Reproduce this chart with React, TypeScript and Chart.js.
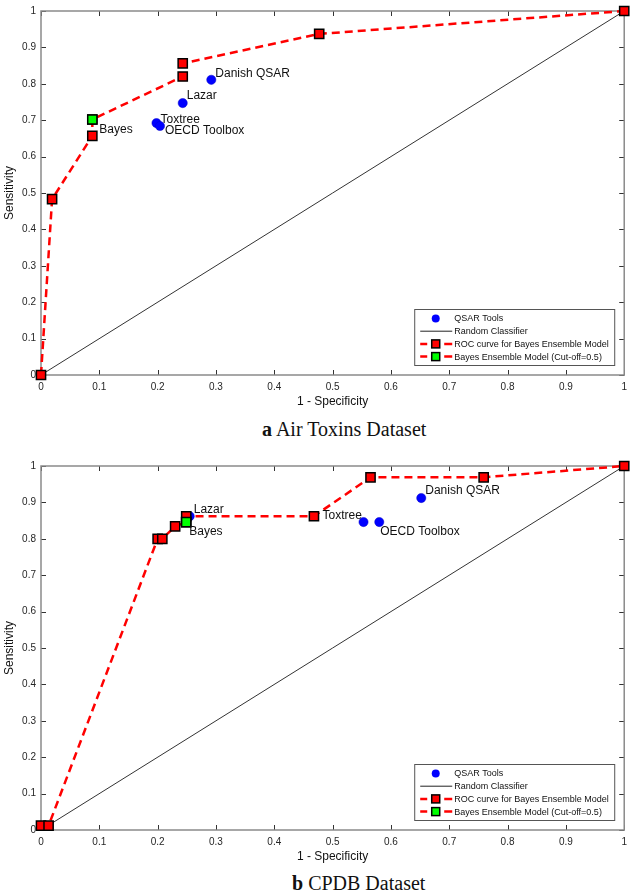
import React, { useEffect, useRef } from "react";
import { Chart, registerables } from "chart.js";

Chart.register(...registerables);

// ---------- shared axis ticks ----------
const tickLabels = ["0", "0.1", "0.2", "0.3", "0.4", "0.5", "0.6", "0.7", "0.8", "0.9", "1"];

// ---------- legend labels ----------
const seriesNames = [
  "QSAR Tools",
  "Random Classifier",
  "ROC curve for Bayes Ensemble Model",
  "Bayes Ensemble Model (Cut-off=0.5)",
];

// ---------- (a) Air Toxins Dataset ----------
const airRocFpr = [0, 0.019, 0.088, 0.088, 0.243, 0.243, 0.477, 1];
const airRocTpr = [0, 0.483, 0.657, 0.702, 0.82, 0.856, 0.937, 1];
const airCutFpr = [0.088];
const airCutTpr = [0.702];
const airToolNames = ["Danish QSAR", "Lazar", "Toxtree", "OECD Toolbox"];
const airToolFpr = [0.292, 0.243, 0.198, 0.204];
const airToolTpr = [0.811, 0.747, 0.692, 0.684];
const airToolLabelOffsets = [[4, -6], [4, -7], [4, -3], [5, 5]];
const airCutLabel = "Bayes";
const airCutLabelOffset = [7, 10];

// ---------- (b) CPDB Dataset ----------
const cpdbRocFpr = [0, 0.013, 0.2, 0.208, 0.23, 0.249, 0.249, 0.468, 0.565, 0.759, 1];
const cpdbRocTpr = [0.012, 0.012, 0.8, 0.8, 0.834, 0.846, 0.862, 0.862, 0.969, 0.969, 1];
const cpdbCutFpr = [0.249];
const cpdbCutTpr = [0.846];
const cpdbToolNames = ["Lazar", "Toxtree", "OECD Toolbox", "Danish QSAR"];
const cpdbToolFpr = [0.255, 0.553, 0.58, 0.652];
const cpdbToolTpr = [0.862, 0.846, 0.846, 0.912];
const cpdbToolLabelOffsets = [[4, -7], [-41, -6], [1, 10], [4, -7]];
const cpdbCutLabel = "Bayes";
const cpdbCutLabelOffset = [3, 10];

const FONT = '"Liberation Sans", Arial, sans-serif';
const TEXT = "#262626";
const AXIS = "#8a8a8a";

const toPts = (xs: number[], ys: number[]) => xs.map((x, i) => ({ x, y: ys[i] }));

type ChartProps = {
  rocFpr: number[];
  rocTpr: number[];
  cutFpr: number[];
  cutTpr: number[];
  toolNames: string[];
  toolFpr: number[];
  toolTpr: number[];
  toolOffsets: number[][];
  cutLabel: string;
  cutOffset: number[];
};

function RocChart(props: ChartProps) {
  const ref = useRef<HTMLCanvasElement | null>(null);
  useEffect(() => {
    const canvas = ref.current;
    if (!canvas) return;

    const framePlugin = {
      id: "frame",
      beforeDatasetsDraw(chart: any) {
        const { ctx, chartArea: a, scales } = chart;
        ctx.save();
        ctx.strokeStyle = "#333";
        ctx.lineWidth = 1;
        const xs = scales.x;
        const ys = scales.y;
        tickLabels.forEach((_, i) => {
          const v = i / 10;
          const px = Math.round(xs.getPixelForValue(v)) + 0.5;
          const py = Math.round(ys.getPixelForValue(v)) + 0.5;
          ctx.beginPath();
          ctx.moveTo(px, a.bottom);
          ctx.lineTo(px, a.bottom - 5);
          ctx.moveTo(px, a.top);
          ctx.lineTo(px, a.top + 5);
          ctx.moveTo(a.left, py);
          ctx.lineTo(a.left + 5, py);
          ctx.moveTo(a.right, py);
          ctx.lineTo(a.right - 5, py);
          ctx.stroke();
        });
        ctx.strokeStyle = AXIS;
        ctx.lineWidth = 1.5;
        ctx.strokeRect(a.left, a.top, a.right - a.left, a.bottom - a.top);
        ctx.restore();
      },
    };

    const labelPlugin = {
      id: "pointLabels",
      afterDatasetsDraw(chart: any) {
        const { ctx } = chart;
        ctx.save();
        ctx.font = `12px ${FONT}`;
        ctx.fillStyle = "#111";
        ctx.textAlign = "left";
        ctx.textBaseline = "middle";
        const toolMeta = chart.getDatasetMeta(0);
        props.toolNames.forEach((name, i) => {
          const el = toolMeta.data[i];
          const [dx, dy] = props.toolOffsets[i];
          ctx.fillText(name, el.x + dx, el.y + dy);
        });
        const cutMeta = chart.getDatasetMeta(3);
        const c = cutMeta.data[0];
        ctx.fillText(props.cutLabel, c.x + props.cutOffset[0], c.y + props.cutOffset[1]);
        ctx.restore();
      },
    };

    const legendPlugin = {
      id: "boxLegend",
      afterDraw(chart: any) {
        const { ctx, chartArea: a } = chart;
        const w = 200;
        const h = 56;
        const L = a.right - 10 - w;
        const T = a.bottom - 10 - h;
        ctx.save();
        ctx.fillStyle = "#fff";
        ctx.fillRect(L, T, w, h);
        ctx.strokeStyle = "#555";
        ctx.lineWidth = 1;
        ctx.strokeRect(L + 0.5, T + 0.5, w, h);
        const ds = chart.data.datasets;
        ds.forEach((d: any, i: number) => {
          const y = T + 9.5 + i * 12.7;
          const cx = L + 21.5;
          if (i === 0) {
            ctx.beginPath();
            ctx.arc(cx, y, 4, 0, Math.PI * 2);
            ctx.fillStyle = d.pointBackgroundColor;
            ctx.fill();
          } else if (i === 1) {
            ctx.beginPath();
            ctx.strokeStyle = "#222";
            ctx.lineWidth = 1;
            ctx.moveTo(L + 6, y);
            ctx.lineTo(L + 38, y);
            ctx.stroke();
          } else {
            ctx.beginPath();
            ctx.strokeStyle = "#ff0000";
            ctx.lineWidth = 2.5;
            ctx.moveTo(L + 6, y);
            ctx.lineTo(L + 13, y);
            ctx.moveTo(L + 30, y);
            ctx.lineTo(L + 38, y);
            ctx.stroke();
            ctx.fillStyle = d.pointBackgroundColor;
            ctx.fillRect(cx - 4, y - 4, 8, 8);
            ctx.strokeStyle = "#000";
            ctx.lineWidth = 1.5;
            ctx.strokeRect(cx - 4, y - 4, 8, 8);
          }
          ctx.fillStyle = "#111";
          ctx.font = `9px ${FONT}`;
          ctx.textAlign = "left";
          ctx.textBaseline = "middle";
          ctx.fillText(d.label, L + 40, y + 0.5);
        });
        ctx.restore();
      },
    };

    const squareMarker = (color: string) => ({
      pointStyle: "rect",
      pointRadius: 6.5,
      pointHoverRadius: 6.5,
      pointBackgroundColor: color,
      pointBorderColor: "#000",
      pointBorderWidth: 1.5,
    });

    const chart = new Chart(canvas, {
      type: "scatter",
      data: {
        datasets: [
          {
            label: seriesNames[0],
            data: toPts(props.toolFpr, props.toolTpr),
            showLine: false,
            pointStyle: "circle",
            pointRadius: 4.6,
            pointBackgroundColor: "#0000ff",
            pointBorderColor: "#0000c8",
            pointBorderWidth: 0.5,
            order: 3,
            clip: false,
          },
          {
            label: seriesNames[1],
            data: [{ x: 0, y: 0 }, { x: 1, y: 1 }],
            showLine: true,
            borderColor: "#333",
            borderWidth: 1,
            pointRadius: 0,
            order: 4,
            clip: false,
          },
          {
            label: seriesNames[2],
            data: toPts(props.rocFpr, props.rocTpr),
            showLine: true,
            borderColor: "#ff0000",
            borderWidth: 2.5,
            borderDash: [8, 5],
            ...squareMarker("#ff0000"),
            order: 2,
            clip: false,
          },
          {
            label: seriesNames[3],
            data: toPts(props.cutFpr, props.cutTpr),
            showLine: false,
            ...squareMarker("#00ff00"),
            order: 1,
            clip: false,
          },
        ],
      } as any,
      options: {
        animation: false,
        responsive: false,
        devicePixelRatio: 1,
        layout: { padding: { top: 6, right: 6, left: 0, bottom: 0 } },
        plugins: { legend: { display: false }, tooltip: { enabled: false } },
        scales: {
          x: {
            type: "linear",
            min: 0,
            max: 1,
            afterFit: (s: any) => {
              s.height = 40;
            },
            grid: { display: false, drawTicks: false },
            border: { display: false },
            ticks: {
              stepSize: 0.1,
              padding: 6,
              color: TEXT,
              font: { family: FONT, size: 10 },
              maxRotation: 0,
              autoSkip: false,
              callback: (_v: any, i: number) => tickLabels[i],
            },
            title: {
              display: true,
              text: "1 - Specificity",
              color: "#111",
              font: { family: FONT, size: 12 },
              padding: { top: 0, bottom: 6 },
            },
          },
          y: {
            type: "linear",
            min: 0,
            max: 1,
            afterFit: (s: any) => {
              s.width = 41;
            },
            grid: { display: false, drawTicks: false },
            border: { display: false },
            ticks: {
              stepSize: 0.1,
              padding: 5,
              color: TEXT,
              font: { family: FONT, size: 10 },
              autoSkip: false,
              callback: (_v: any, i: number) => tickLabels[i],
            },
            title: {
              display: true,
              text: "Sensitivity",
              color: "#111",
              font: { family: FONT, size: 12 },
              padding: { top: 2, bottom: 0 },
            },
          },
        },
      } as any,
      plugins: [framePlugin, labelPlugin, legendPlugin],
    });
    return () => chart.destroy();
  }, []);
  return <canvas ref={ref} width={633} height={415} style={{ display: "block", width: 633, height: 415 }} />;
}

export default function App() {
  const captionStyle: React.CSSProperties = {
    position: "absolute",
    font: '20px "Liberation Serif", "Times New Roman", serif',
    lineHeight: "22px",
    whiteSpace: "nowrap",
    color: "#111",
  };
  return (
    <div style={{ position: "absolute", left: 0, top: 0, width: 633, height: 892, background: "#fff", overflow: "hidden" }}>
      <div style={{ position: "absolute", left: 0, top: 0 }}>
        <RocChart
          rocFpr={airRocFpr}
          rocTpr={airRocTpr}
          cutFpr={airCutFpr}
          cutTpr={airCutTpr}
          toolNames={airToolNames}
          toolFpr={airToolFpr}
          toolTpr={airToolTpr}
          toolOffsets={airToolLabelOffsets}
          cutLabel={airCutLabel}
          cutOffset={airCutLabelOffset}
        />
      </div>
      <div style={{ ...captionStyle, left: 262, top: 418 }}>
        <b>a</b> Air Toxins Dataset
      </div>
      <div style={{ position: "absolute", left: 0, top: 455 }}>
        <RocChart
          rocFpr={cpdbRocFpr}
          rocTpr={cpdbRocTpr}
          cutFpr={cpdbCutFpr}
          cutTpr={cpdbCutTpr}
          toolNames={cpdbToolNames}
          toolFpr={cpdbToolFpr}
          toolTpr={cpdbToolTpr}
          toolOffsets={cpdbToolLabelOffsets}
          cutLabel={cpdbCutLabel}
          cutOffset={cpdbCutLabelOffset}
        />
      </div>
      <div style={{ ...captionStyle, left: 292, top: 872 }}>
        <b>b</b> CPDB Dataset
      </div>
    </div>
  );
}
